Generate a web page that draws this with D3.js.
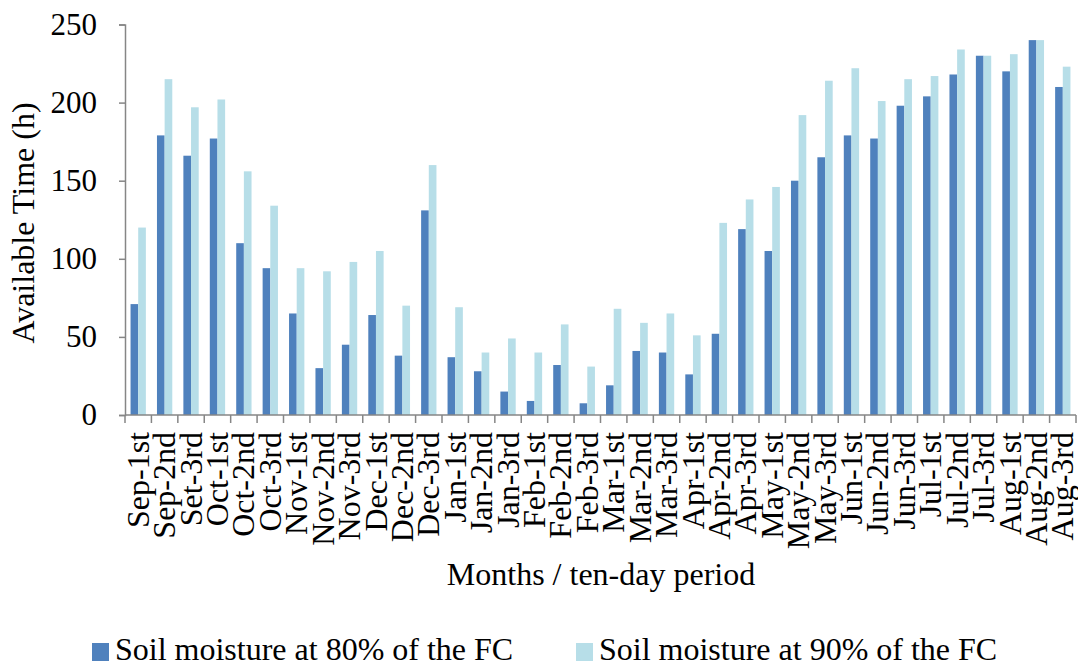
<!DOCTYPE html>
<html>
<head>
<meta charset="utf-8">
<script src="https://cdn.jsdelivr.net/npm/d3@7"></script>
<style>
  body { margin: 0; background: #fff; }
  svg text { font-family: "Liberation Serif", "Times New Roman", serif; fill: #000; }
</style>
</head>
<body>
<svg id="chart" width="1078" height="661"></svg>
<script>
// ten-day periods
var periods = ["Sep-1st","Sep-2nd","Set-3rd","Oct-1st","Oct-2nd","Oct-3rd",
  "Nov-1st","Nov-2nd","Nov-3rd","Dec-1st","Dec-2nd","Dec-3rd",
  "Jan-1st","Jan-2nd","Jan-3rd","Feb-1st","Feb-2nd","Feb-3rd",
  "Mar-1st","Mar-2nd","Mar-3rd","Apr-1st","Apr-2nd","Apr-3rd",
  "May-1st","May-2nd","May-3rd","Jun-1st","Jun-2nd","Jun-3rd",
  "Jul-1st","Jul-2nd","Jul-3rd","Aug-1st","Aug-2nd","Aug-3rd"];

var fc80 = [71, 179, 166, 177, 110, 94, 65, 30, 45, 64, 38, 131,
  37, 28, 15, 9, 32, 7.5, 19, 41, 40, 26, 52, 119,
  105, 150, 165, 179, 177, 198, 204, 218, 230, 220, 240, 210];

var fc90 = [120, 215, 197, 202, 156, 134, 94, 92, 98, 105, 70, 160,
  69, 40, 49, 40, 58, 31, 68, 59, 65, 51, 123, 138,
  146, 192, 214, 222, 201, 215, 217, 234, 230, 231, 240, 223];

var seriesNames = ["Soil moisture at 80% of the FC", "Soil moisture at 90% of the FC"];
var seriesColors = ["#4F81BD", "#B7DEE8"];
var yTicks = [0, 50, 100, 150, 200, 250];

var svg = d3.select("#chart");
var axisColor = "#868686";

var x0 = d3.scaleBand()
    .domain(periods)
    .range([125, 1076])
    .paddingInner(0.42)
    .paddingOuter(0.21);

var x1 = d3.scaleBand()
    .domain([0, 1])
    .range([0, x0.bandwidth()]);

var y = d3.scaleLinear()
    .domain([0, 250])
    .range([415, 24.5]);

// bars
var rows = periods.map(function(p, i) { return { p: p, v: [fc80[i], fc90[i]] }; });

var groups = svg.append("g").selectAll("g")
    .data(rows)
    .enter().append("g")
    .attr("transform", function(d) { return "translate(" + x0(d.p) + ",0)"; });

groups.selectAll("rect")
    .data(function(d) { return d.v.map(function(v, k) { return { k: k, v: v }; }); })
    .enter().append("rect")
    .attr("x", function(d) { return x1(d.k); })
    .attr("width", x1.bandwidth())
    .attr("y", function(d) { return y(d.v); })
    .attr("height", function(d) { return y(0) - y(d.v); })
    .style("fill", function(d) { return seriesColors[d.k]; });

// y axis
var yAxis = svg.append("g")
    .attr("transform", "translate(125,0)")
    .call(d3.axisLeft(y).tickValues(yTicks).tickSize(6).tickPadding(22));
yAxis.select(".domain").style("stroke", axisColor).style("stroke-width", "1.5px");
yAxis.selectAll(".tick line").style("stroke", axisColor).style("stroke-width", "1.5px");
yAxis.selectAll("text")
    .style("font-size", "31px")
    .style("font-family", "'Liberation Serif', serif")
    .style("fill", "#000");

// x axis line + ticks at category boundaries
var step = x0.step();
var x0start = x0.range()[0];
svg.append("line")
    .attr("x1", x0start).attr("x2", x0.range()[1])
    .attr("y1", y(0)).attr("y2", y(0))
    .style("stroke", axisColor).style("stroke-width", "1.5px");

svg.append("g").selectAll("line")
    .data(d3.range(periods.length + 1))
    .enter().append("line")
    .attr("x1", function(i) { return x0start + i * step; })
    .attr("x2", function(i) { return x0start + i * step; })
    .attr("y1", y(0)).attr("y2", y(0) + 8)
    .style("stroke", axisColor).style("stroke-width", "1.5px");

// x labels, rotated
svg.append("g").selectAll("text")
    .data(periods)
    .enter().append("text")
    .attr("transform", function(d) {
      return "translate(" + (x0(d) + x0.bandwidth() / 2) + ",432) rotate(-90)";
    })
    .attr("dy", "0.33em")
    .attr("text-anchor", "end")
    .style("font-size", "32px")
    .text(function(d) { return d; });

// axis titles
svg.append("text")
    .attr("x", 601).attr("y", 585)
    .attr("text-anchor", "middle")
    .style("font-size", "32px")
    .text("Months / ten-day period");

svg.append("text")
    .attr("transform", "translate(34,223) rotate(-90)")
    .attr("text-anchor", "middle")
    .style("font-size", "32px")
    .text("Available Time (h)");

// legend
var legendX = [92, 576];
var legend = svg.append("g").selectAll("g")
    .data(seriesNames)
    .enter().append("g")
    .attr("transform", function(d, i) { return "translate(" + legendX[i] + ",0)"; });

legend.append("rect")
    .attr("x", 0).attr("y", 643)
    .attr("width", 17).attr("height", 18)
    .style("fill", function(d, i) { return seriesColors[i]; });

legend.append("text")
    .attr("x", 23).attr("y", 660)
    .style("font-size", "32px")
    .text(function(d) { return d; });
</script>
</body>
</html>
